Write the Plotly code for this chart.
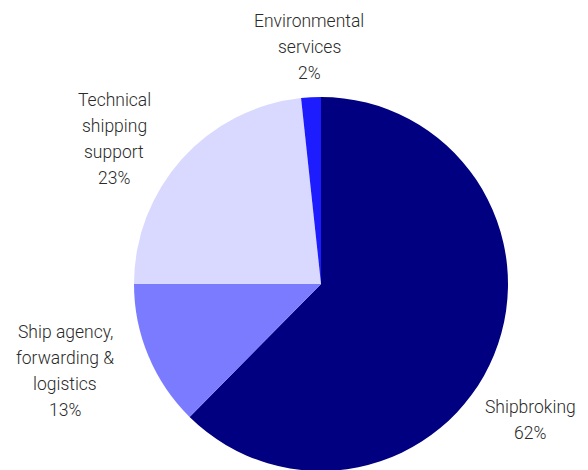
import plotly.graph_objects as go

segments = ["Shipbroking", "Ship agency, forwarding & logistics", "Technical shipping support", "Environmental services"]
label_lines = [["Shipbroking"], ["Ship agency,", "forwarding &", "logistics"], ["Technical", "shipping", "support"], ["Environmental", "services"]]
shares = [62.4, 12.6, 23.3, 1.7]
colors = ["#000080", "#7B7BFF", "#D9D9FF", "#1C1CFF"]

W, H = 588, 470
OFF = 8  # page body margin offset
# label block centres (pixels in the window) and line spacing
label_pos = [(530, 420), (65, 371), (114, 139), (309, 47)]
line_gap = 26

cx_pie, cy_pie, r_pie = 321 - OFF, 284 - OFF, 187
fig = go.Figure(go.Pie(
    labels=segments, values=shares, sort=False, direction="clockwise", rotation=0,
    marker=dict(colors=colors, line=dict(width=0)), textinfo="none", hoverinfo="label+percent",
    domain=dict(x=[(cx_pie - r_pie) / W, (cx_pie + r_pie) / W],
                y=[1 - (cy_pie + r_pie) / H, 1 - (cy_pie - r_pie) / H]),
    showlegend=False,
))

total = sum(shares)
annotations = []
for lines, v, (cx, cy) in zip(label_lines, shares, label_pos):
    all_lines = lines + [f"{round(v / total * 100)}%"]
    n = len(all_lines)
    for i, t in enumerate(all_lines):
        y_px = cy + (i - (n - 1) / 2) * line_gap - OFF
        annotations.append(dict(
            text=t, x=(cx - OFF) / W, y=1 - y_px / H, xref="paper", yref="paper",
            showarrow=False, xanchor="center", yanchor="middle",
            font=dict(family="Roboto", size=17.5, color="#2a2a2a", weight=300),
        ))

fig.update_layout(
    width=W, height=H, margin=dict(l=0, r=0, t=0, b=0),
    paper_bgcolor="white", plot_bgcolor="white", annotations=annotations,
)
fig.write_html("out.html")
